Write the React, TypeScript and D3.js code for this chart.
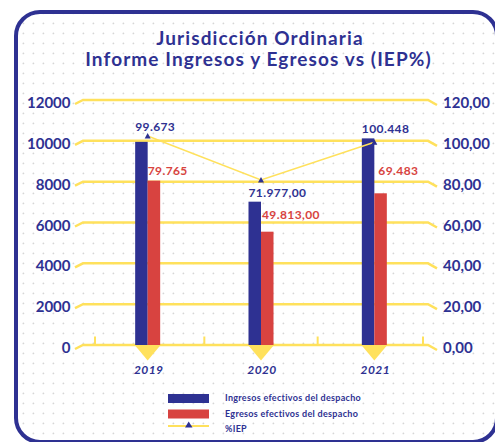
import React from "react";
import * as d3 from "d3";

// datos
const years = ["2019", "2020", "2021"];
const ingresos = [9950, 7020, 10120];
const egresos = [8050, 5550, 7430];
const iep = [102.4, 80.8, 99.3];
const ingresosLabels = ["99.673", "71.977,00", "100.448"];
const egresosLabels = ["79.765", "49.813,00", "69.483"];
const leftTicks = [0, 2000, 4000, 6000, 8000, 10000, 12000];
const rightTicks = [0, 20, 40, 60, 80, 100, 120];
const legendItems = ["Ingresos efectivos del despacho", "Egresos efectivos del despacho", "%IEP"];

// ajustes de las etiquetas (px sobre la barra)
const ingresosDy = [-10.5, -5, -5.5];
const egresosDy = [-5.5, -12.5, -18];
const egresosDx = [0, 1, 4];

const width = 495;
const height = 442;
const NAVY = "#2e3192";
const RED = "#d84340";
const YELLOW = "#ffe15c";
const FONT = "Lato, 'Open Sans', sans-serif";

const y = d3.scaleLinear().domain([0, 12000]).range([345, 100]);
const yR = d3.scaleLinear().domain([0, 120]).range([345, 100]);
const x0 = d3.scaleBand().domain(years).range([91, 431]);
const x1 = d3
  .scaleBand()
  .domain(["ing", "egr"])
  .range([x0.bandwidth() / 2 - 12.5, x0.bandwidth() / 2 + 12.5]);

const center = (yr: string) => (x0(yr) ?? 0) + x0.bandwidth() / 2;

export default function App() {
  const line = d3
    .line<number>()
    .x((d, i) => center(years[i]))
    .y((d) => yR(d));

  const boundaries = [...years.map((yr) => x0(yr) ?? 0), x0.range()[1]].map((v) =>
    Math.max(95, Math.min(423, v))
  );

  return (
    <svg
      width={width}
      height={height}
      style={{ position: "absolute", left: 0, top: 0, background: "#fff" }}
      fontFamily={FONT}
    >
      <defs>
        <pattern id="dots" width="10" height="10" patternUnits="userSpaceOnUse">
          <circle cx="3.4" cy="3.4" r="0.9" fill="#d6d6d6" />
        </pattern>
      </defs>

      {/* marco */}
      <rect x={16} y={12} width={481} height={430} rx={24} fill="url(#dots)" stroke={NAVY} strokeWidth={4} />

      {/* titulo */}
      <g fill={NAVY} fontWeight={700} fontSize={19} textAnchor="middle" letterSpacing={1.1}>
        <text x={260} y={45}>Jurisdicción Ordinaria</text>
        <text x={258.5} y={66}>Informe Ingresos y Egresos vs (IEP%)</text>
      </g>

      {/* lineas de la grilla */}
      {leftTicks.map((t) => {
        const yy = y(t);
        return (
          <path
            key={t}
            d={`M75,${yy + 4} L83,${yy} H428 L437,${yy + 5}`}
            fill="none"
            stroke={YELLOW}
            strokeWidth={2.5}
          />
        );
      })}

      {/* marcas del eje x */}
      {boundaries.map((bx, i) => (
        <line key={i} x1={bx} x2={bx} y1={y(0) - 8.5} y2={y(0)} stroke={YELLOW} strokeWidth={2} />
      ))}

      {/* etiquetas de ejes */}
      <g fill={NAVY} fontWeight={700} fontSize={15}>
        {leftTicks.map((t) => (
          <text key={t} x={70.5} y={y(t) + 8} textAnchor="end">
            {t}
          </text>
        ))}
        {rightTicks.map((t) => (
          <text key={t} x={443} y={yR(t) + 8}>
            {d3.format(".2f")(t).replace(".", ",")}
          </text>
        ))}
      </g>

      {/* barras */}
      {years.map((yr, i) => {
        const bx = x0(yr) ?? 0;
        return (
          <g key={yr}>
            <rect
              x={bx + (x1("ing") ?? 0)}
              y={y(ingresos[i])}
              width={x1.bandwidth()}
              height={y(0) - y(ingresos[i])}
              fill={NAVY}
            />
            <rect
              x={bx + (x1("egr") ?? 0)}
              y={y(egresos[i])}
              width={x1.bandwidth()}
              height={y(0) - y(egresos[i])}
              fill={RED}
            />
            <path
              d={`M${center(yr) - 13},${y(0)} L${center(yr) + 13},${y(0)} L${center(yr)},${y(0) + 15.5}Z`}
              fill={YELLOW}
            />
            <text
              x={center(yr) + 1}
              y={374}
              textAnchor="middle"
              fill={NAVY}
              fontWeight={700}
              fontStyle="italic"
              fontSize={12}
              letterSpacing={0.4}
            >
              {yr}
            </text>
          </g>
        );
      })}

      {/* linea IEP */}
      <path d={line(iep) ?? ""} fill="none" stroke={YELLOW} strokeWidth={1.5} />
      {iep.map((v, i) => {
        const cx = center(years[i]);
        const cy = yR(v);
        return <path key={i} d={`M${cx - 3},${cy + 2.5} L${cx + 3},${cy + 2.5} L${cx},${cy - 3}Z`} fill={NAVY} />;
      })}

      {/* etiquetas de datos */}
      <g fontWeight={700} fontSize={12} letterSpacing={0.4}>
        {years.map((yr, i) => {
          const bx = x0(yr) ?? 0;
          return (
            <g key={yr}>
              <text x={bx + (x1("ing") ?? 0)} y={y(ingresos[i]) + ingresosDy[i]} fill={NAVY}>
                {ingresosLabels[i]}
              </text>
              <text
                x={bx + (x1("egr") ?? 0) + egresosDx[i]}
                y={y(egresos[i]) + egresosDy[i]}
                fill={RED}
              >
                {egresosLabels[i]}
              </text>
            </g>
          );
        })}
      </g>

      {/* leyenda */}
      <g>
        <rect x={168} y={394} width={41} height={9} fill={NAVY} />
        <rect x={168} y={409.5} width={41} height={9} fill={RED} />
        <line x1={168} x2={209} y1={426} y2={426} stroke={YELLOW} strokeWidth={2} />
        <path d="M185,427.5 L192.5,427.5 L188.7,421.5Z" fill={NAVY} />
        <g fill={NAVY} fontWeight={700} fontSize={9} letterSpacing={0.3}>
          {legendItems.map((t, i) => (
            <text key={t} x={225} y={401 + i * 15.5}>
              {t}
            </text>
          ))}
        </g>
      </g>
    </svg>
  );
}
